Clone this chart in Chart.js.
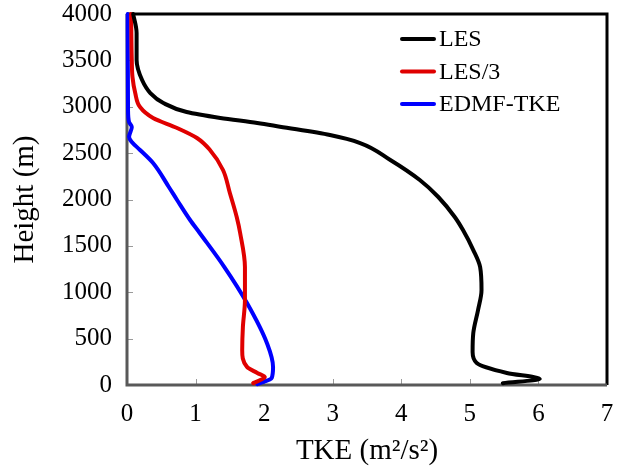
<!DOCTYPE html>
<html>
<head>
<meta charset="utf-8">
<script src="https://cdn.jsdelivr.net/npm/chart.js@4.4.1/dist/chart.umd.min.js"></script>
<style>
  html, body { margin: 0; padding: 0; background: #fff; }
  #wrap { width: 624px; height: 470px; }
</style>
</head>
<body>
<div id="wrap"><canvas id="tkeChart" width="624" height="470"></canvas></div>
<script>
// profiles (height in m, TKE in m2/s2)
const lesHeight = [20, 65, 130, 237, 355, 560, 810, 1025, 1270, 1455, 1670, 1811, 2027, 2210, 2426, 2609, 2695, 2785, 2825, 2879, 2943, 3040, 3148, 3288, 3504, 3795, 4000];
const lesTke    = [5.48, 6.02, 5.54, 5.10, 5.04, 5.05, 5.12, 5.17, 5.15, 5.05, 4.90, 4.78, 4.54, 4.27, 3.84, 3.40, 2.96, 2.23, 1.90, 1.36, 0.87, 0.53, 0.34, 0.22, 0.14, 0.14, 0.09];

const les3Height = [20, 86, 130, 195, 377, 625, 916, 1272, 1639, 1811, 2070, 2318, 2534, 2663, 2771, 2879, 2997, 3148, 3320, 3504, 4000];
const les3Tke    = [1.84, 2.01, 1.90, 1.75, 1.68, 1.69, 1.72, 1.72, 1.65, 1.60, 1.50, 1.40, 1.21, 1.02, 0.73, 0.38, 0.19, 0.12, 0.08, 0.07, 0.06];

const edmfHeight = [10, 75, 195, 453, 884, 1272, 1639, 1779, 1995, 2135, 2393, 2534, 2620, 2674, 2782, 2835, 2965, 4000];
const edmfTke    = [1.90, 2.11, 2.13, 2.04, 1.75, 1.42, 1.06, 0.92, 0.73, 0.61, 0.38, 0.19, 0.07, 0.03, 0.07, 0.03, 0.015, 0.01];

const xTicks = [0, 1, 2, 3, 4, 5, 6, 7];
const yTicks = [0, 500, 1000, 1500, 2000, 2500, 3000, 3500, 4000];

const serif = "'Liberation Serif', 'Times New Roman', serif";

function toPoints(hs, vs) {
    return hs.map((h, i) => ({ x: vs[i], y: h }));
}

// frame + inward tick marks
const framePlugin = {
    id: "frame",
    beforeDatasetsDraw(chart) {
        const { ctx, chartArea: a, scales } = chart;
        ctx.save();
        ctx.strokeStyle = "#9a9a9a";
        ctx.lineWidth = 1;
        xTicks.forEach(v => {
            const px = Math.round(scales.x.getPixelForValue(v)) + 0.5;
            ctx.beginPath();
            ctx.moveTo(px, a.bottom);
            ctx.lineTo(px, a.bottom - 6);
            ctx.stroke();
        });
        yTicks.forEach(v => {
            const py = Math.round(scales.y.getPixelForValue(v)) + 0.5;
            ctx.beginPath();
            ctx.moveTo(a.left, py);
            ctx.lineTo(a.left + 6, py);
            ctx.stroke();
        });
        // top and right border
        ctx.strokeStyle = "#000";
        ctx.lineWidth = 3;
        ctx.beginPath();
        ctx.moveTo(a.left, a.top);
        ctx.lineTo(a.right, a.top);
        ctx.lineTo(a.right, a.bottom);
        ctx.stroke();
        // left and bottom axis
        ctx.strokeStyle = "#595959";
        ctx.beginPath();
        ctx.moveTo(a.left, a.top);
        ctx.lineTo(a.left, a.bottom);
        ctx.lineTo(a.right, a.bottom);
        ctx.stroke();
        ctx.restore();
    }
};

// legend inside plot, top right
const legendPlugin = {
    id: "innerLegend",
    afterDraw(chart) {
        const { ctx, chartArea: a } = chart;
        const x0 = a.left + 275;
        ctx.save();
        ctx.font = "24px " + serif;
        ctx.textBaseline = "middle";
        ctx.fillStyle = "#000";
        chart.data.datasets.forEach((ds, i) => {
            const y = a.top + 25 + i * 32.5;
            ctx.strokeStyle = ds.borderColor;
            ctx.lineWidth = 4;
            ctx.lineCap = "round";
            ctx.beginPath();
            ctx.moveTo(x0, y);
            ctx.lineTo(x0 + 32, y);
            ctx.stroke();
            ctx.fillText(ds.label, x0 + 37, y + 1);
        });
        ctx.restore();
    }
};

function initChart() {
    const ctx = document.getElementById("tkeChart");

    new Chart(ctx, {
        type: "line",
        data: {
            datasets: [{
                label: "LES",
                data: toPoints(lesHeight, lesTke),
                borderColor: "#000000",
                borderWidth: 4
            }, {
                label: "LES/3",
                data: toPoints(les3Height, les3Tke),
                borderColor: "#e00000",
                borderWidth: 4
            }, {
                label: "EDMF-TKE",
                data: toPoints(edmfHeight, edmfTke),
                borderColor: "#0000ff",
                borderWidth: 4
            }]
        },
        options: {
            responsive: false,
            animation: false,
            indexAxis: "y",
            layout: { padding: { left: 0, right: 17, top: 14, bottom: 0 } },
            elements: {
                point: { radius: 0 },
                line: { cubicInterpolationMode: "monotone", borderCapStyle: "round", borderJoinStyle: "round" }
            },
            datasets: { line: { clip: 6 } },
            plugins: {
                legend: { display: false },
                tooltip: { enabled: false }
            },
            scales: {
                x: {
                    type: "linear",
                    position: "bottom",
                    min: 0,
                    max: 7,
                    afterBuildTicks(s) { s.ticks = xTicks.map(v => ({ value: v })); },
                    afterFit(s) {
                        s.height = 85;
                        s.paddingLeft = 0;
                        s.paddingRight = 0;
                    },
                    grid: { display: false, drawTicks: false },
                    border: { display: false },
                    ticks: {
                        color: "#000",
                        padding: 14,
                        maxRotation: 0,
                        callback: v => String(v),
                        font: { family: serif, size: 25 }
                    },
                    title: {
                        display: true,
                        text: "TKE (m²/s²)",
                        color: "#000",
                        padding: { top: 0, bottom: 1 },
                        font: { family: serif, size: 29 }
                    }
                },
                y: {
                    type: "linear",
                    min: 0,
                    max: 4000,
                    afterBuildTicks(s) { s.ticks = yTicks.map(v => ({ value: v })); },
                    afterFit(s) {
                        s.width = 127;
                        s.paddingTop = 0;
                        s.paddingBottom = 0;
                    },
                    grid: { display: false, drawTicks: false },
                    border: { display: false },
                    ticks: {
                        color: "#000",
                        padding: 15,
                        callback: v => String(v),
                        font: { family: serif, size: 25 }
                    },
                    title: {
                        display: true,
                        text: "Height (m)",
                        color: "#000",
                        padding: { top: 8, bottom: 0 },
                        font: { family: serif, size: 29 }
                    }
                }
            }
        },
        plugins: [framePlugin, legendPlugin]
    });
}

window.addEventListener("load", initChart);
</script>
</body>
</html>
